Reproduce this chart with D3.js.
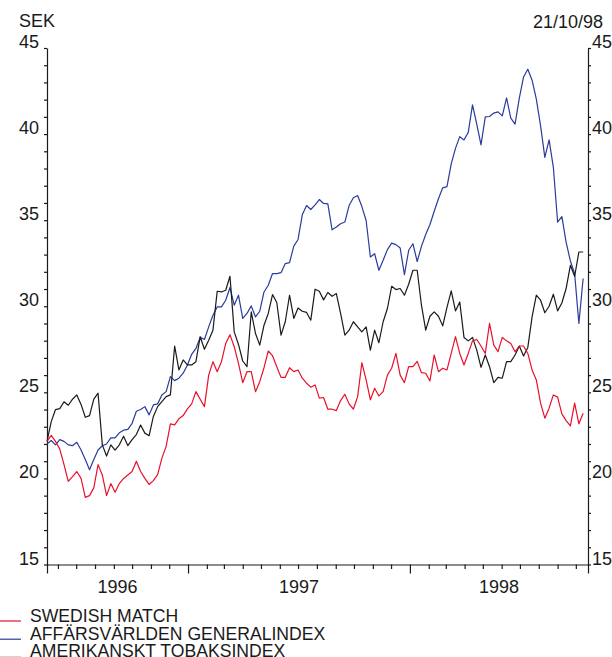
<!DOCTYPE html>
<html><head><meta charset="utf-8">
<script src="https://cdn.jsdelivr.net/npm/d3@7"></script>
<style>
body{margin:0;background:#fff}
svg{display:block;background:#fff}
text{font-family:"Liberation Sans",Arial,sans-serif;fill:#1a1a1a}
</style>
</head><body><svg width="612" height="657"></svg>
<script>
// ---- data (weekly closes, SEK) ----
const startDate = "1996-05-14";
const axisEndDate = "1998-10-21";
const dateLabel = "21/10/98";
const unitLabel = "SEK";
const swedishMatch = [
22.15,22.5,22.15,21.7,20.8,19.83,20.1,20.4,20.0,18.9,19.0,19.45,20.8,20.2,19.0,19.7,19.2,19.7,20.0,20.2,
20.4,21.0,20.4,20.0,19.65,19.87,20.22,21.18,21.86,23.17,23.11,23.46,23.65,24.04,24.33,25.04,24.6,24.17,26.0,26.78,
26.2,26.78,27.84,28.35,27.65,26.68,25.56,26.2,26.2,25.04,25.62,26.43,27.4,27.13,26.49,25.87,25.87,26.43,26.2,26.3,
25.82,25.53,25.3,25.43,24.66,24.7,24.02,24.02,23.94,24.52,24.89,24.33,24.02,24.75,26.72,25.72,24.56,25.24,24.79,25.04,
26.0,26.4,27.26,26.0,25.56,26.49,26.49,26.8,26.14,26.11,25.66,27.17,26.2,26.4,26.3,27.26,28.23,27.26,26.59,27.26,
27.99,28.07,27.69,27.26,29.0,27.74,27.36,28.19,27.99,27.84,27.36,27.69,27.69,27.26,26.3,25.72,24.37,23.5,24.08,24.85,
24.72,23.75,23.36,23.05,24.37,23.17,23.79
];
const affarsvarlden = [
22.0,22.2,21.95,22.25,22.15,21.95,21.9,22.1,21.65,21.1,20.5,21.1,21.65,21.9,22.0,22.35,22.35,22.65,22.8,22.85,
23.2,23.9,24.0,24.17,23.69,24.27,24.33,24.85,25.04,25.91,25.68,25.82,26.11,26.59,27.21,27.55,28.19,28.07,28.8,29.48,
29.96,29.96,30.35,31.09,30.06,30.64,29.29,29.58,30.02,29.38,29.71,30.83,31.22,31.9,31.9,31.95,32.48,32.53,33.49,33.88,
35.31,35.85,35.62,35.89,36.2,35.97,35.95,34.44,34.6,34.79,34.89,35.85,36.3,36.43,35.79,34.98,32.86,33.05,32.09,32.67,
33.29,33.67,33.58,33.38,31.84,33.25,33.63,32.6,33.48,34.17,34.75,35.52,36.24,36.88,36.95,38.27,39.17,39.85,39.66,40.1,
41.7,40.58,39.37,41.0,41.02,41.22,41.29,41.06,42.1,40.93,40.58,42.09,43.32,43.77,43.13,42.03,40.48,38.65,39.66,38.07,
34.89,35.21,33.73,32.63,31.9,29.0,31.61
];
const tobaksindex = [
22.15,23.3,24.0,24.05,24.45,24.25,24.6,24.85,24.3,23.55,23.65,24.6,24.95,21.95,21.3,21.95,21.65,21.95,22.45,21.9,
22.25,22.55,23.1,22.63,22.48,23.6,24.17,24.46,24.75,24.85,27.69,26.3,26.88,26.59,26.59,26.78,28.23,27.5,28.03,28.61,
30.87,30.83,30.93,31.74,28.51,27.78,26.82,26.49,29.67,28.42,27.74,28.9,29.58,30.68,30.22,28.32,29.1,30.64,29.29,29.9,
29.71,29.64,29.19,30.99,30.87,30.37,30.8,30.58,30.74,29.58,28.32,28.61,29.1,28.8,28.51,28.8,27.45,28.61,27.88,29.1,
29.87,31.16,30.97,31.03,30.64,31.28,32.09,32.09,30.06,28.61,29.42,29.67,29.42,28.86,29.93,30.89,29.73,30.25,28.19,27.99,
28.19,27.45,26.45,27.17,26.49,25.56,25.87,25.82,26.78,26.78,27.17,27.69,27.11,27.61,29.38,30.64,30.35,29.62,30.0,30.7,
29.73,30.19,31.03,32.38,31.74,33.15,33.15
];
const yTickLabels = [15,20,25,30,35,40,45];
const yearLabels = ["1996","1997","1998"];
const legendLabels = ["SWEDISH MATCH","AFFÄRSVÄRLDEN GENERALINDEX","AMERIKANSKT TOBAKSINDEX"];
const seriesColors = ["#e8102a","#2a3c9c","#1a1a1a"];

// ---- drawing ----
const svg = d3.select("svg");
const parse = d3.timeParse("%Y-%m-%d");
const t0 = parse(startDate), t1 = parse(axisEndDate);
const L = 47, R = 588, T = 48, B = 564.5;
const x = d3.scaleTime().domain([t0, t1]).range([L, R]);
const y = d3.scaleLinear().domain([15, 45]).range([B, T]);
const dates = swedishMatch.map((_, i) => d3.timeDay.offset(t0, 7 * i));

const axisColor = "#1a1a1a";

// left axis
const gl = svg.append("g").attr("transform", `translate(${L},0)`)
  .call(d3.axisLeft(y).tickValues(d3.range(15, 46)).tickSize(3).tickSizeOuter(0).tickFormat(""));
// right axis
const gr = svg.append("g").attr("transform", `translate(${R},0)`)
  .call(d3.axisRight(y).tickValues(d3.range(15, 46)).tickSize(3).tickSizeOuter(0).tickFormat(""));
// bottom axis: monthly minor ticks
const months = d3.timeMonth.range(d3.timeMonth.ceil(t0), t1).filter(d => d.getMonth() !== 0);
const years = d3.timeYear.range(d3.timeYear.ceil(t0), t1);
const gb = svg.append("g").attr("transform", `translate(0,${B})`)
  .call(d3.axisBottom(x).tickValues(months).tickSize(4.5).tickSizeOuter(0).tickFormat(""));
const gb2 = svg.append("g").attr("transform", `translate(0,${B})`)
  .call(d3.axisBottom(x).tickValues([t0, ...years, t1]).tickSize(9).tickSizeOuter(0).tickFormat(""));
[gl, gr, gb, gb2].forEach(g => {
  g.selectAll("path,line").attr("stroke", axisColor).attr("stroke-width", 1.2);
});
gb2.select(".domain").remove();

// y labels
svg.append("g").selectAll("text").data(yTickLabels).join("text")
  .attr("x", L - 8).attr("y", d => y(d)).attr("text-anchor", "end")
  .attr("font-size", 18).text(d => d);
svg.append("g").selectAll("text").data(yTickLabels).join("text")
  .attr("x", R + 4).attr("y", d => y(d)).attr("text-anchor", "start")
  .attr("font-size", 18).text(d => d);

// year labels centered between boundaries
const bounds = [t0, ...years, t1];
svg.append("g").selectAll("text").data(yearLabels).join("text")
  .attr("x", (d, i) => (x(bounds[i]) + x(bounds[i + 1])) / 2)
  .attr("y", 593).attr("text-anchor", "middle").attr("font-size", 18).text(d => d);

svg.append("text").attr("x", 19).attr("y", 27).attr("font-size", 18).text(unitLabel);
svg.append("text").attr("x", 603).attr("y", 28).attr("text-anchor", "end").attr("font-size", 18).text(dateLabel);

// lines
const line = d3.line().x((d, i) => x(dates[i])).y(d => y(d));
const series = [affarsvarlden, tobaksindex, swedishMatch];
const cols = [seriesColors[1], seriesColors[2], seriesColors[0]];
series.forEach((s, k) => {
  svg.append("path").datum(s).attr("d", line).attr("fill", "none")
    .attr("stroke", cols[k]).attr("stroke-width", 1.2).attr("stroke-linejoin", "round");
});

// legend
const lg = svg.append("g");
legendLabels.forEach((lab, i) => {
  const by = 622 + i * 17.5;
  const ly = 621 + i * 18.2;
  lg.append("line").attr("x1", 0).attr("x2", 21).attr("y1", ly).attr("y2", ly)
    .attr("stroke", seriesColors[i]).attr("stroke-width", 1.2);
  lg.append("text").attr("x", 30).attr("y", by).attr("font-size", 17.6).text(lab);
});
</script>
</body></html>
